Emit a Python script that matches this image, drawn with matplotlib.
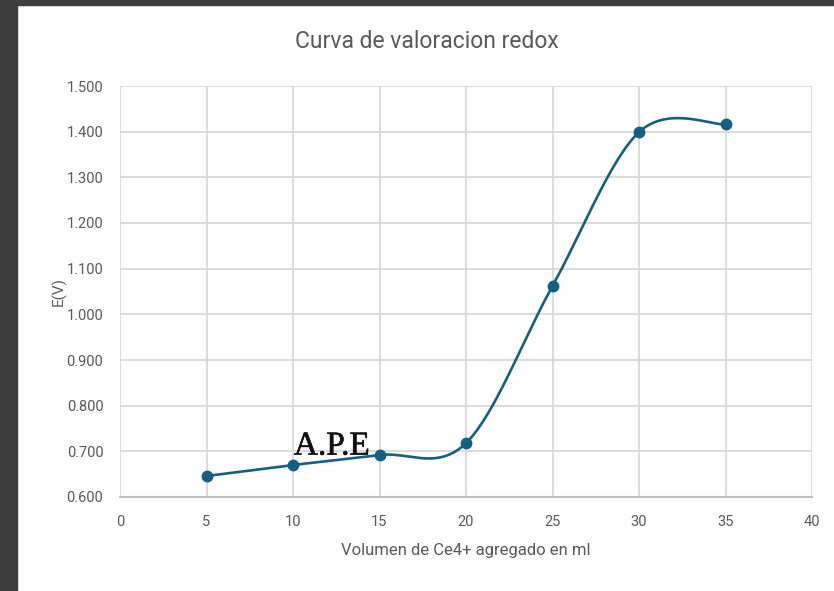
import numpy as np
import matplotlib
matplotlib.use("Agg")
import matplotlib.pyplot as plt
from matplotlib.patches import Rectangle
import matplotlib.patheffects as pe

plt.rcParams['font.family'] = ['Roboto', 'DejaVu Sans']

# Data
volumen = [5, 10, 15, 20, 25, 30, 35]
potencial = [0.646, 0.670, 0.692, 0.718, 1.062, 1.399, 1.416]
x_ticks = [0, 5, 10, 15, 20, 25, 30, 35, 40]
y_ticks = [0.6, 0.7, 0.8, 0.9, 1.0, 1.1, 1.2, 1.3, 1.4, 1.5]
title = "Curva de valoracion redox"
xlabel = "Volumen de Ce4+ agregado en ml"
ylabel = "E(V)"
annot = "A.P.E"

line_color = "#156082"
text_color = "#595959"
grid_color = "#d9d9d9"


def smooth(xs, ys, n=60):
    P = np.column_stack([xs, ys]).astype(float)
    m = len(P)
    out = []
    for i in range(m - 1):
        p0 = P[i - 1] if i > 0 else P[i]
        p1 = P[i]
        p2 = P[i + 1]
        p3 = P[i + 2] if i + 2 < m else P[i + 1]
        c1 = p1 + (p2 - p0) / 6.0
        c2 = p2 - (p3 - p1) / 6.0
        t = np.linspace(0, 1, n)[:, None]
        seg = ((1 - t) ** 3) * p1 + 3 * ((1 - t) ** 2) * t * c1 + 3 * (1 - t) * t ** 2 * c2 + t ** 3 * p2
        out.append(seg if i == 0 else seg[1:])
    out = np.vstack(out)
    return out[:, 0], out[:, 1]


fig = plt.figure(figsize=(8.34, 5.91), dpi=100)
fig.patch.set_facecolor("white")
# dark screenshot borders
fig.patches.append(Rectangle((0, 0), 17 / 834, 1, transform=fig.transFigure, color="#3d3d3d", zorder=0))
fig.patches.append(Rectangle((0, 1 - 5 / 591), 1, 5 / 591, transform=fig.transFigure, color="#3d3d3d", zorder=0))

ax = fig.add_axes([120 / 834, 1 - 497 / 591, (812 - 120) / 834, (497 - 86) / 591])
sx, sy = smooth(volumen, potencial)
ax.plot(sx, sy, color=line_color, lw=1.9, zorder=3, solid_capstyle="round")
ax.plot(volumen, potencial, 'o', color=line_color, ms=7.5, zorder=4)

ax.set_xlim(0, 40)
ax.set_ylim(0.6, 1.5)
ax.set_xticks(x_ticks)
ax.set_yticks(y_ticks)
ax.set_yticklabels([f"{v:.3f}" for v in y_ticks])
ax.tick_params(axis='both', length=0, labelsize=10.5, labelcolor=text_color)
ax.tick_params(axis='x', pad=13)
ax.tick_params(axis='y', pad=12)
ax.grid(True, color=grid_color, lw=1.3)
ax.set_axisbelow(True)
for s in ['top', 'right', 'left']:
    ax.spines[s].set_visible(False)
ax.spines['bottom'].set_color("#bfbfbf")
ax.spines['bottom'].set_linewidth(1.5)

fig.text(427 / 834, 1 - 42 / 591, title, fontsize=16.5, color=text_color, ha='center', va='center')
ax.set_xlabel(xlabel, fontsize=12, color=text_color, labelpad=10)
ax.set_ylabel(ylabel, fontsize=11, color=text_color, labelpad=0)

ax.text(10.05, 0.693, annot, fontsize=24, family=['Liberation Serif', 'DejaVu Serif'],
        color="#111111", ha='left', va='baseline', zorder=5,
        path_effects=[pe.withStroke(linewidth=0.4, foreground="#111111")])

fig.savefig("out.png", dpi=100)
